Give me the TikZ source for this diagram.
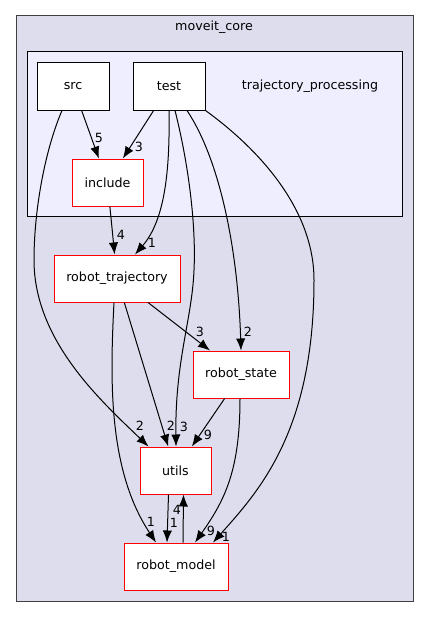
\documentclass[tikz,border=0pt]{standalone}
\usepackage{fontspec}
\setmainfont{DejaVu Sans}
\usetikzlibrary{arrows.meta,calc}
\definecolor{outerfill}{HTML}{DDDDEE}
\definecolor{innerfill}{HTML}{EEEEFF}
\definecolor{outerdraw}{HTML}{404040}

\begin{document}
\begin{tikzpicture}[
		x=0.75pt, y=-0.75pt,
		font=\fontsize{9.5}{11}\selectfont,
		arrow/.style={-{Latex[length=9pt,width=7pt]}, line width=0.75pt},
		cluster/.style={line width=0.75pt},
		dir/.style={draw, fill=white, line width=0.75pt, minimum height=35.25pt, inner sep=0pt},
		dirsub/.style={dir, draw=red},
		elabel/.style={inner sep=0pt},
	]
		\useasboundingbox (0,0) rectangle (429,617);
		\draw[cluster, draw=outerdraw, fill=outerfill] (16,16) rectangle (413,601);
		\node at (214,27) (core) {moveit\_core};
		\draw[cluster, fill=innerfill] (27,52) rectangle (402,216);
		\node at (310,86) (tproc) {trajectory\_processing};

		\node at (73,86.5) (src) [dir, minimum width=54pt] {src};
		\node at (169,86.5) (test) [dir, minimum width=54pt] {test};
		\node at (107.5,182.5) (include) [dirsub, minimum width=53.25pt] {include};
		\node at (117,278.5) (rtraj) [dirsub, minimum width=94.5pt] {robot\_trajectory};
		\node at (241,374.5) (rstate) [dirsub, minimum width=72pt] {robot\_state};
		\node at (175.5,470.5) (utils) [dirsub, minimum width=53.25pt] {utils};
		\node at (176,566.5) (rmodel) [dirsub, minimum width=78pt] {robot\_model};

		% inside trajectory_processing
		\draw[arrow] (src) -- (include) node[elabel] at (99,138) {5};
		\draw[arrow] (test) -- (include) node[elabel] at (139,147) {3};
		\draw[arrow] (include) -- (rtraj) node[elabel] at (121,235) {4};

		% leaving the cluster
		\draw[arrow] ($(src.south)+(-11,0)$) .. controls (45,150) and (34,210) .. (34,260)
			.. controls (34,340) and (100,400) .. ($(utils.north)+(-27,0)$)
			node[elabel] at (140,426) {2};
		\draw[arrow] (test.south) .. controls (170,170) and (165,220) .. ($(rtraj.north)+(18,0)$)
			node[elabel] at (152,243) {1};
		\draw[arrow] ($(test.south)+(6,0)$) .. controls (190,170) and (196,230) .. (194,270)
			.. controls (192,320) and (175,360) .. ($(utils.north)+(0.5,0)$)
			node[elabel] at (184,427) {3};
		\draw[arrow] ($(test.south)+(18,0)$) .. controls (220,160) and (238,250) .. (rstate.north)
			node[elabel] at (248,332) {2};
		\draw[arrow] (test.south east) .. controls (260,150) and (314,210) .. (314,280)
			.. controls (314,430) and (260,490) .. ($(rmodel.north)+(37,0)$)
			node[elabel] at (226,537) {1};

		% lower part
		\draw[arrow] (rtraj) -- (rstate) node[elabel] at (200,332) {3};
		\draw[arrow] (rtraj) -- (utils) node[elabel] at (171,426) {2};
		\draw[arrow] ($(rtraj.south)+(-3,0)$) .. controls (110,380) and (108,470) .. ($(rmodel.north)+(-20,0)$)
			node[elabel] at (151,522) {1};
		\draw[arrow] (rstate) -- (utils) node[elabel] at (208,435) {9};
		\draw[arrow] ($(rstate.south)+(-1,0)$) .. controls (240,470) and (225,500) .. ($(rmodel.north)+(19,0)$)
			node[elabel] at (211,531) {9};
		\draw[arrow] ($(utils.south)+(-7,0)$) -- ($(rmodel.north)+(-9,0)$) node[elabel] at (174,523) {1};
		\draw[arrow] ($(rmodel.north)+(7,0)$) -- ($(utils.south)+(8,0)$) node[elabel] at (177,510) {4};
	\end{tikzpicture}
\end{document}
